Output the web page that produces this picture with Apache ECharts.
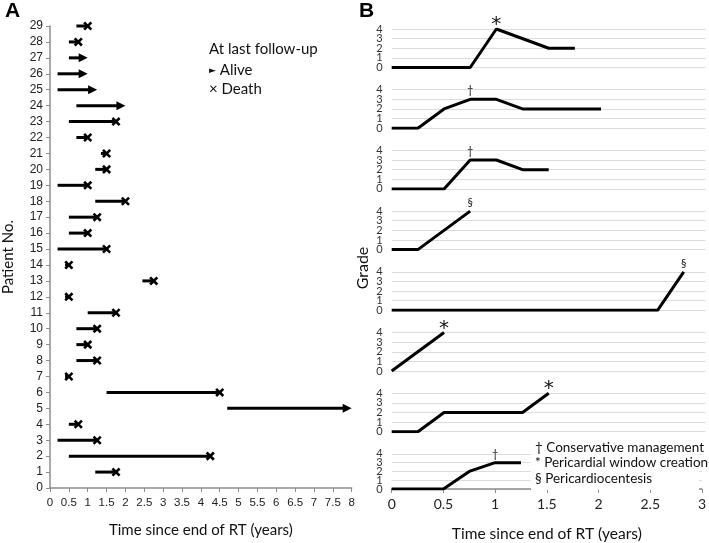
<!DOCTYPE html>
<html>
<head>
<meta charset="utf-8">
<script src="https://cdn.jsdelivr.net/npm/echarts@6/dist/echarts.min.js"></script>
<style>
  html, body { margin: 0; padding: 0; background: #fff; }
  #main { width: 709px; height: 543px; }
</style>
</head>
<body>
<div id="main"></div>
<script>
// ---- panel A: swimmer plot ----
var patients  = [1, 2, 3, 4, 5, 6, 7, 8, 9, 10, 11, 12, 13, 14, 15, 16, 17, 18, 19, 20, 21, 22, 23, 24, 25, 26, 27, 28, 29];
var startYear = [1.2, 0.5, 0.2, 0.5, 4.7, 1.5, 0.4, 0.7, 0.7, 0.7, 1.0, 0.4, 2.45, 0.4, 0.2, 0.5, 0.5, 1.2, 0.2, 1.2, 1.35, 0.7, 0.5, 0.7, 0.2, 0.2, 0.5, 0.5, 0.7];
var endYear   = [1.75, 4.25, 1.25, 0.75, 8.0, 4.5, 0.5, 1.25, 1.0, 1.25, 1.75, 0.5, 2.75, 0.5, 1.5, 1.0, 1.25, 2.0, 1.0, 1.5, 1.5, 1.0, 1.75, 2.0, 1.25, 1.0, 1.0, 0.75, 1.0];
var aliveFlag = [0, 0, 0, 0, 1, 0, 0, 0, 0, 0, 0, 0, 0, 0, 0, 0, 0, 0, 0, 0, 0, 0, 0, 1, 1, 1, 1, 0, 0];

// ---- panel B: grade over time, one small chart per patient ----
var gradeLabels = ['0', '1', '2', '3', '4'];
var gradeTime = [
    [0, 0.75, 1, 1.5, 1.75],
    [0, 0.25, 0.5, 0.75, 1, 1.25, 2],
    [0, 0.5, 0.75, 1, 1.25, 1.5],
    [0, 0.25, 0.75],
    [0, 2.54, 2.79],
    [0, 0.5],
    [0, 0.25, 0.5, 1.25, 1.5],
    [0, 0.5, 0.75, 1, 1.25]
];
var gradeValue = [
    [0, 0, 4, 2, 2],
    [0, 0, 2, 3, 3, 2, 2],
    [0, 0, 3, 3, 2, 2],
    [0, 0, 4],
    [0, 0, 4],
    [0, 4],
    [0, 0, 2, 2, 4],
    [0, 0, 2, 3, 3]
];
var markIndex  = [2, 3, 2, 2, 2, 1, 4, 3];
var markSymbol = ['*', '†', '†', '§', '§', '*', '*', '†'];

var xTicksA = [0, 8, 0.5];
var xTicksB = [0, 3, 0.5];

var fontA = "'Liberation Sans', Arial, sans-serif";
var fontB = "Lato, 'Open Sans', sans-serif";
var axisGrey = '#8c8c8c';

var chart = echarts.init(document.getElementById('main'));

var grids = [{ left: 48.3, top: 26, width: 303.4, height: 468 }];
var xAxes = [{
    gridIndex: 0, type: 'value', min: xTicksA[0], max: xTicksA[1], interval: xTicksA[2],
    axisLine: { lineStyle: { color: axisGrey, width: 1.5 } },
    axisTick: { show: true, length: 4, lineStyle: { color: axisGrey } },
    splitLine: { show: false },
    axisLabel: { color: '#222', fontSize: 11.5, fontFamily: fontA, margin: 9, showMinLabel: true, showMaxLabel: true },
    name: 'Time since end of RT (years)', nameLocation: 'middle', nameGap: 35,
    nameTextStyle: { color: '#111', fontSize: 15, fontFamily: fontB }
}];
var yAxes = [{
    gridIndex: 0, type: 'value', min: 0, max: 29, interval: 1,
    axisLine: { show: true, lineStyle: { color: axisGrey, width: 1.5 } },
    axisTick: { show: true, length: 4, lineStyle: { color: axisGrey } },
    splitLine: { show: false },
    axisLabel: { color: '#222', fontSize: 12, fontFamily: fontA, margin: 7, showMinLabel: true, showMaxLabel: true },
    name: 'Patient No.', nameLocation: 'middle', nameGap: 34,
    nameTextStyle: { color: '#111', fontSize: 15, fontFamily: fontB }
}];

var swimData = patients.map(function (p, i) {
    return [p, startYear[i], endYear[i], aliveFlag[i]];
});

var series = [{
    type: 'custom',
    xAxisIndex: 0, yAxisIndex: 0,
    data: swimData,
    encode: { x: [1, 2], y: 0 },
    renderItem: function (params, api) {
        var y = api.value(0);
        var p0 = api.coord([api.value(1), y]);
        var p1 = api.coord([api.value(2), y]);
        var kids = [];
        if (api.value(3) === 1) {
            kids.push({ type: 'line', shape: { x1: p0[0], y1: p0[1], x2: p1[0] - 7, y2: p1[1] },
                style: { stroke: '#000', lineWidth: 3 } });
            kids.push({ type: 'polygon', shape: { points: [[p1[0] - 9, p1[1] - 4.5], [p1[0], p1[1]], [p1[0] - 9, p1[1] + 4.5]] },
                style: { fill: '#000' } });
        } else {
            kids.push({ type: 'line', shape: { x1: p0[0], y1: p0[1], x2: p1[0], y2: p1[1] },
                style: { stroke: '#000', lineWidth: 3 } });
            var s = 3.6;
            kids.push({ type: 'line', shape: { x1: p1[0] - s, y1: p1[1] - s, x2: p1[0] + s, y2: p1[1] + s },
                style: { stroke: '#000', lineWidth: 2.6 } });
            kids.push({ type: 'line', shape: { x1: p1[0] - s, y1: p1[1] + s, x2: p1[0] + s, y2: p1[1] - s },
                style: { stroke: '#000', lineWidth: 2.6 } });
        }
        return { type: 'group', children: kids };
    }
}];

var nB = gradeTime.length;
for (var k = 0; k < nB; k++) {
    var gi = k + 1;
    var last = (k === nB - 1);
    grids.push({ left: 391.7, top: 29 + 60.7 * k, width: 314, height: 38.5 });
    xAxes.push({
        gridIndex: gi, type: 'value', min: xTicksB[0], max: xTicksB[1], interval: xTicksB[2],
        show: last,
        axisLine: { show: true, lineStyle: { color: axisGrey, width: 1.5 } },
        axisTick: { show: true, length: 4, lineStyle: { color: axisGrey } },
        splitLine: { show: false },
        axisLabel: { color: '#222', fontSize: 14, fontFamily: fontB, margin: 8, showMinLabel: true, showMaxLabel: true },
        name: last ? 'Time since end of RT (years)' : '', nameLocation: 'middle', nameGap: 37,
        nameTextStyle: { color: '#111', fontSize: 15.5, fontFamily: fontB }
    });
    // grade axis as category so every level 0-4 keeps its label
    yAxes.push({
        gridIndex: gi, type: 'category', data: gradeLabels, boundaryGap: false,
        axisLine: { show: false }, axisTick: { show: false },
        splitLine: { show: true, interval: 0, lineStyle: { color: '#dcdcdc', width: 1 } },
        axisLabel: { color: '#333', fontSize: 11, fontFamily: fontB, margin: 9, interval: 0, lineHeight: 9 }
    });
    var pts = gradeTime[k].map(function (t, j) {
        var item = { value: [t, gradeValue[k][j]] };
        if (j === markIndex[k]) {
            var big = markSymbol[k] === '*';
            item.label = {
                show: true, position: 'top', formatter: markSymbol[k],
                fontSize: big ? 20 : 11, color: '#111',
                fontFamily: big ? "'DejaVu Sans', sans-serif" : fontB,
                distance: big ? -6 : 3
            };
        }
        return item;
    });
    series.push({
        type: 'line', xAxisIndex: gi, yAxisIndex: gi,
        data: pts, symbol: 'circle', symbolSize: 0, showSymbol: true,
        itemStyle: { color: '#000' },
        lineStyle: { color: '#000', width: 3 },
        label: { show: false },
        labelLayout: { hideOverlap: false },
        animation: false
    });
}

var graphics = [
    { type: 'text', left: 5, top: 1, style: { text: 'A', fontSize: 21, fontWeight: 'bold', fontFamily: fontA, fill: '#000' } },
    { type: 'text', left: 359, top: 1, style: { text: 'B', fontSize: 21, fontWeight: 'bold', fontFamily: fontA, fill: '#000' } },
    { type: 'text', left: 209, top: 42, style: { text: 'At last follow-up', fontSize: 15, fontFamily: fontB, fill: '#111' } },
    { type: 'text', left: 209, top: 63, style: { text: '{s|►} Alive', fontSize: 15, fontFamily: fontB, fill: '#111',
        rich: { s: { fontSize: 9, fontFamily: 'DejaVu Sans', fill: '#111' } } } },
    { type: 'text', left: 209, top: 82, style: { text: '× Death', fontSize: 15, fontFamily: fontB, fill: '#111' } },
    { type: 'text', x: 363, y: 268, rotation: Math.PI / 2,
      style: { text: 'Grade', fontSize: 16, fontFamily: fontB, fill: '#111', align: 'center', verticalAlign: 'middle' } },
    { type: 'rect', left: 531, top: 440, shape: { width: 168, height: 50 }, style: { fill: '#fff' }, z: 10 },
    { type: 'text', left: 535, top: 441, z: 11, style: { text: '† Conservative management', fontSize: 13.5, fontFamily: fontB, fill: '#111' } },
    { type: 'text', left: 535, top: 456, z: 11, style: { text: '* Pericardial window creation', fontSize: 13.5, fontFamily: fontB, fill: '#111' } },
    { type: 'text', left: 535, top: 472, z: 11, style: { text: '§ Pericardiocentesis', fontSize: 13.5, fontFamily: fontB, fill: '#111' } }
];

chart.setOption({
    backgroundColor: '#fff',
    animation: false,
    grid: grids,
    xAxis: xAxes,
    yAxis: yAxes,
    series: series,
    graphic: graphics
});
</script>
</body>
</html>
